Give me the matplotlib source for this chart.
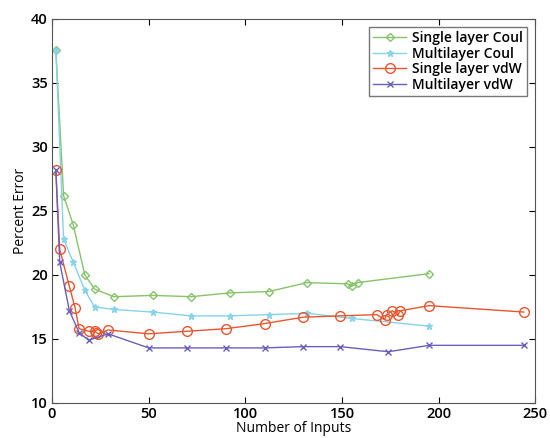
import matplotlib.pyplot as plt

# Percent error vs number of inputs
single_coul_x = [2, 6, 11, 17, 22, 32, 52, 72, 92, 112, 132, 153, 155, 158, 195]
single_coul_y = [37.6, 26.2, 23.9, 20.0, 18.9, 18.3, 18.4, 18.3, 18.6, 18.7, 19.4, 19.3, 19.1, 19.4, 20.1]

multi_coul_x = [2, 6, 11, 17, 22, 32, 52, 72, 92, 112, 132, 155, 195]
multi_coul_y = [37.6, 22.8, 21.0, 18.8, 17.5, 17.3, 17.1, 16.8, 16.8, 16.9, 17.0, 16.6, 16.0]

single_vdw_x = [2, 4, 9, 12, 14, 19, 22, 23, 24, 29, 50, 70, 90, 110, 130, 149,
                168, 172, 173, 176, 179, 180, 195, 244]
single_vdw_y = [28.2, 22.0, 19.1, 17.4, 15.8, 15.6, 15.6, 15.5, 15.4, 15.7, 15.4, 15.6, 15.8, 16.2, 16.7, 16.8,
                16.9, 16.5, 16.9, 17.2, 16.9, 17.2, 17.6, 17.1]

multi_vdw_x = [2, 4, 9, 14, 19, 29, 50, 70, 90, 110, 130, 149, 174, 195, 244]
multi_vdw_y = [28.2, 21.0, 17.2, 15.5, 14.9, 15.4, 14.3, 14.3, 14.3, 14.3, 14.4, 14.4, 14.0, 14.5, 14.5]

x_ticks = [0, 50, 100, 150, 200, 250]
y_ticks = [10, 15, 20, 25, 30, 35, 40]

plt.rcParams['font.family'] = ['Open Sans', 'DejaVu Sans']

fig = plt.figure(figsize=(5.5, 4.38), dpi=100)
ax = fig.add_axes([0.0945, 0.080, 0.879, 0.877])

ax.plot(single_coul_x, single_coul_y, color='#86c46a', marker='D', markersize=4.5,
        markerfacecolor='none', markeredgewidth=1, linewidth=1, label='Single layer Coul')
ax.plot(multi_coul_x, multi_coul_y, color='#86d3ea', marker='*', markersize=5,
        linewidth=1, label='Multilayer Coul')
ax.plot(single_vdw_x, single_vdw_y, color='#e8572f', marker='o', markersize=7,
        markerfacecolor='none', markeredgewidth=1, linewidth=1, label='Single layer vdW')
ax.plot(multi_vdw_x, multi_vdw_y, color='#6a5fbf', marker='x', markersize=4,
        markeredgewidth=1, linewidth=1, label='Multilayer vdW')

ax.set_xlim(0, 250)
ax.set_ylim(10, 40)
ax.set_xticks(x_ticks)
ax.set_yticks(y_ticks)
ax.tick_params(direction='in', top=True, right=True, labelsize=10.5, length=4, pad=3)
for lbl in ax.get_xticklabels() + ax.get_yticklabels():
    lbl.set_fontweight('semibold')
for spine in ax.spines.values():
    spine.set_color('#555555')

ax.set_xlabel('Number of Inputs', fontsize=10, labelpad=0)
ax.set_ylabel('Percent Error', fontsize=10, labelpad=2)

leg = ax.legend(loc='upper right', fontsize=10, frameon=True, fancybox=False,
                borderaxespad=0.6, handlelength=2.4, labelspacing=0.1,
                borderpad=0.3, handletextpad=0.4)
leg.get_frame().set_edgecolor('#555555')
leg.get_frame().set_linewidth(1)
for t in leg.get_texts():
    t.set_fontweight('semibold')

fig.savefig('out.png', dpi=100)
